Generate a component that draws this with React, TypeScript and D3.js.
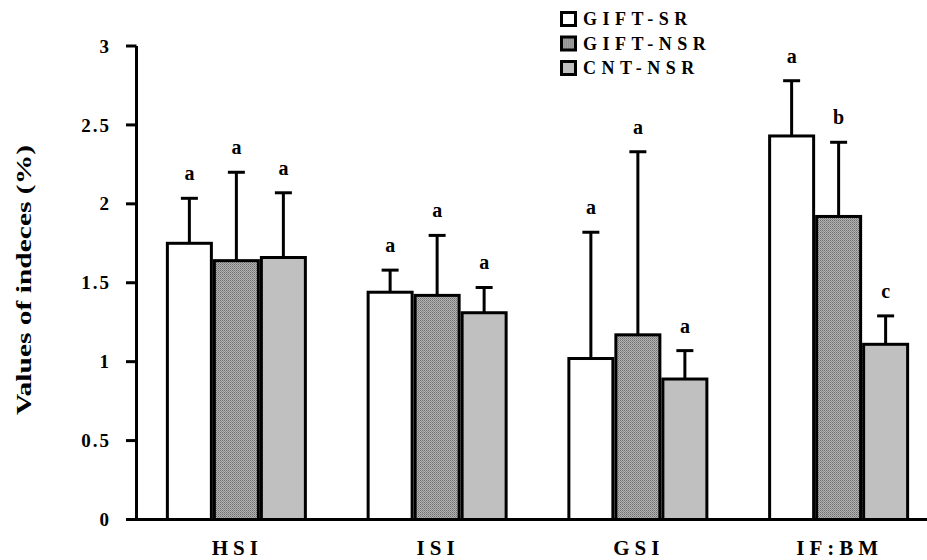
import React from 'react';
import * as d3 from 'd3';

const categories = ['HSI', 'ISI', 'GSI', 'IF:BM'];
const seriesNames = ['GIFT-SR', 'GIFT-NSR', 'CNT-NSR'];

const giftSR = [1.75, 1.44, 1.02, 2.43];
const giftSRErr = [0.285, 0.14, 0.8, 0.35];
const giftNSR = [1.64, 1.42, 1.17, 1.92];
const giftNSRErr = [0.56, 0.38, 1.16, 0.47];
const cntNSR = [1.66, 1.31, 0.89, 1.11];
const cntNSRErr = [0.41, 0.16, 0.18, 0.18];

const giftSRLetters = ['a', 'a', 'a', 'a'];
const giftNSRLetters = ['a', 'a', 'a', 'b'];
const cntNSRLetters = ['a', 'a', 'a', 'c'];

const yTicks = [0, 0.5, 1, 1.5, 2, 2.5, 3];
const yTickLabels = ['0', '0.5', '1', '1.5', '2', '2.5', '3'];

const W = 927;
const H = 560;
const FONT = '"Liberation Serif", "Times New Roman", serif';

const series = [
  { name: seriesNames[0], values: giftSR, err: giftSRErr, letters: giftSRLetters, fill: '#ffffff' },
  { name: seriesNames[1], values: giftNSR, err: giftNSRErr, letters: giftNSRLetters, fill: 'url(#dots)' },
  { name: seriesNames[2], values: cntNSR, err: cntNSRErr, letters: cntNSRLetters, fill: '#c0c0c0' },
];

export default function App() {
  const left = 136.5;
  const base = 519.5;
  const y = d3.scaleLinear().domain([0, 3]).range([base, 46]);
  const x0 = d3.scaleBand<string>().domain(categories).range([136, 939]).padding(0);
  const x1 = d3.scaleBand<string>().domain(seriesNames).range([0, 141]).padding(0);
  const barW = x1.bandwidth() - 3;

  return (
    <svg width={W} height={H} style={{ display: 'block', position: 'absolute', left: 0, top: 0 }}>
      <defs>
        <pattern id="dots" width="2" height="2" patternUnits="userSpaceOnUse">
          <rect width="2" height="2" fill="#b4b4b4" />
          <rect width="1" height="1" fill="#6e6e6e" />
          <rect x="1" y="1" width="1" height="1" fill="#8a8a8a" />
        </pattern>
      </defs>
      <rect width={W} height={H} fill="#fff" />

      {/* bars with error bars and letters */}
      {series.map((s) =>
        categories.map((c, i) => {
          const bx = x0(c)! + (x0.bandwidth() - 141) / 2 + x1(s.name)! + 1.5;
          const cx = bx + barW / 2;
          const top = y(s.values[i]);
          const capY = y(s.values[i] + s.err[i]);
          return (
            <g key={s.name + c}>
              <line x1={cx} x2={cx} y1={top} y2={capY} stroke="#000" strokeWidth={3} />
              <line x1={cx - 8.5} x2={cx + 8.5} y1={capY} y2={capY} stroke="#000" strokeWidth={3} />
              <rect x={bx} y={top} width={barW} height={base - top} fill={s.fill} stroke="#000" strokeWidth={3} />
              <text x={cx} y={capY - 18} textAnchor="middle" fontFamily={FONT} fontWeight="bold" fontSize={20}>
                {s.letters[i]}
              </text>
            </g>
          );
        })
      )}

      {/* axes */}
      <line x1={left} x2={left} y1={y(3)} y2={base} stroke="#000" strokeWidth={3} />
      <line x1={126} x2={W} y1={base} y2={base} stroke="#000" strokeWidth={3} />
      {yTicks.map((t, i) => (
        <g key={t}>
          <line x1={126} x2={left} y1={y(t)} y2={y(t)} stroke="#000" strokeWidth={3} />
          <text x={111} y={y(t)} dy="0.35em" textAnchor="end" fontFamily={FONT} fontWeight="bold" fontSize={19} letterSpacing={2}>
            {yTickLabels[i]}
          </text>
        </g>
      ))}
      {categories.map((c) => (
        <text key={c} x={x0(c)! + x0.bandwidth() / 2 + 1} y={555} textAnchor="middle" fontFamily={FONT} fontWeight="bold" fontSize={21} letterSpacing={5}>
          {c}
        </text>
      ))}
      <text
        transform={`translate(24,280) rotate(-90)`}
        textAnchor="middle"
        dy="0.35em"
        fontFamily={FONT}
        fontWeight="bold"
        fontSize={20}
        textLength={270}
        lengthAdjust="spacingAndGlyphs"
      >
        Values of indeces (%)
      </text>

      {/* legend */}
      {series.map((s, i) => (
        <g key={s.name} transform={`translate(560,${19 + i * 24.5})`}>
          <rect x={1.5} y={-6.5} width={14} height={13} fill={s.fill} stroke="#000" strokeWidth={3} />
          <text x={23} y={0} dy="0.35em" fontFamily={FONT} fontWeight="bold" fontSize={18} letterSpacing={5.5}>
            {s.name}
          </text>
        </g>
      ))}
    </svg>
  );
}
